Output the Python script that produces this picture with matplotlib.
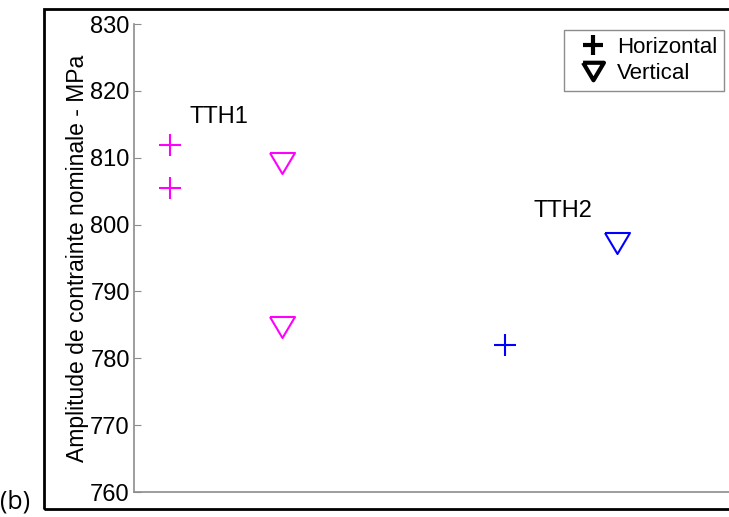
import matplotlib

matplotlib.use("Agg")
import matplotlib.pyplot as plt  # noqa: E402
from matplotlib.lines import Line2D  # noqa: E402
from matplotlib.patches import Rectangle  # noqa: E402

# Values (b)
tth1_h_x = [1, 1]
tth1_h_y = [811.9, 805.5]
tth1_v_x = [2, 2]
tth1_v_y = [809.2, 784.7]
tth2_h_x = [4]
tth2_h_y = [782.0]
tth2_v_x = [5]
tth2_v_y = [797.2]

yticks = [760, 770, 780, 790, 800, 810, 820, 830]

MAGENTA = "#ff00ff"
BLUE = "#0000ff"
GRAY = "#8c8c8c"

# MATLAB-style down triangle: a bit wider than tall
TRI = [(-1, 0.84), (1, 0.84), (0, -0.84), (-1, 0.84)]

plt.rcParams.update(
    {
        "font.family": ["Liberation Sans", "DejaVu Sans"],
        "font.size": 17,
    }
)

fig = plt.figure(figsize=(7.29, 5.17), dpi=100)
ax = fig.add_axes([134 / 729, 1 - 492 / 517, 1 - 134 / 729, (492 - 24) / 517])

mk = dict(linestyle="none", markeredgewidth=1.5)
ax.plot(tth1_h_x, tth1_h_y, marker="+", markersize=16, color=MAGENTA, **mk)
ax.plot(tth1_v_x, tth1_v_y, marker=TRI, markersize=18, markerfacecolor="none",
        markeredgecolor=MAGENTA, **mk)
ax.plot(tth2_h_x, tth2_h_y, marker="+", markersize=16, color=BLUE, **mk)
ax.plot(tth2_v_x, tth2_v_y, marker=TRI, markersize=18, markerfacecolor="none",
        markeredgecolor=BLUE, **mk)

ax.text(1.18, 816.1, "TTH1", ha="left", va="center")
ax.text(4.25, 802.0, "TTH2", ha="left", va="center")

ax.set_xlim(0.68, 6.0)
ax.set_ylim(760, 830)
ax.set_yticks(yticks)
ax.set_xticks([])
ax.tick_params(axis="y", direction="in", length=5, color=GRAY, pad=3)
ax.set_ylabel("Amplitude de contrainte nominale - MPa", labelpad=1,
              fontsize=16.5)
for side in ("top", "right"):
    ax.spines[side].set_visible(False)
for side in ("left", "bottom"):
    ax.spines[side].set_color(GRAY)
    ax.spines[side].set_linewidth(1.2)

handles = [
    Line2D([], [], marker="+", markersize=15, color="black", linestyle="none",
           markeredgewidth=3),
    Line2D([], [], marker=TRI, markersize=15, markerfacecolor="none",
           markeredgecolor="black", linestyle="none", markeredgewidth=3),
]
leg = ax.legend(handles, ["Horizontal", "Vertical"], loc="upper right",
                bbox_to_anchor=(724 / 729, 1 - 30 / 517),
                bbox_transform=fig.transFigure, fontsize=16,
                fancybox=False, framealpha=1, edgecolor=GRAY,
                borderpad=0.3, labelspacing=0.25, handletextpad=0.1,
                handlelength=2.0, borderaxespad=0)
leg.get_frame().set_linewidth(1.0)

# outer black frame of the panel (right side runs off the picture)
fig.patches.append(
    Rectangle((44 / 729, 1 - 509 / 517), 1.1, (509 - 9) / 517,
              transform=fig.transFigure, fill=False, edgecolor="black",
              linewidth=2, clip_on=False)
)
fig.text(0.0, 0.004, "(b)", ha="left", va="bottom", fontsize=18,
         family=["Open Sans", "DejaVu Sans"])

fig.savefig("out.png", dpi=100)
